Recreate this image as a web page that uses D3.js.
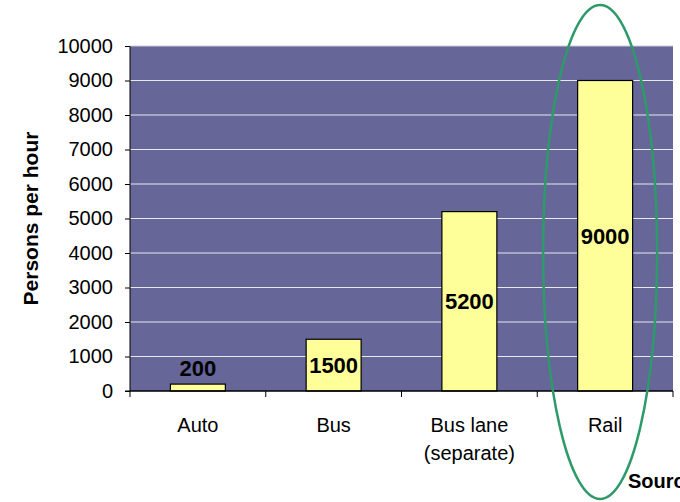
<!DOCTYPE html>
<html>
<head>
<meta charset="utf-8">
<script src="https://cdn.jsdelivr.net/npm/d3@7"></script>
<style>
  body { margin: 0; background: #fff; }
  text { font-family: Arial, "Liberation Sans", sans-serif; }
</style>
</head>
<body>
<svg id="chart"></svg>
<script>
const categories = [["Auto"], ["Bus"], ["Bus lane", "(separate)"], ["Rail"]];
const values = [200, 1500, 5200, 9000];
const yTicks = [0, 1000, 2000, 3000, 4000, 5000, 6000, 7000, 8000, 9000, 10000];

const W = 680, H = 502;
const margin = {top: 46, right: 7, bottom: 111, left: 130};
const width = W - margin.left - margin.right,
    height = H - margin.top - margin.bottom;

const svg = d3.select("#chart").attr("width", W).attr("height", H);
const g = svg.append("g").attr("transform", "translate(" + margin.left + "," + margin.top + ")");

const x = d3.scaleBand().domain(d3.range(categories.length)).range([0, width]).paddingInner(0.595).paddingOuter(0.2975);
const xb = d3.scaleBand().domain(d3.range(categories.length)).range([0, width]);
const y = d3.scaleLinear().domain([0, 10000]).range([height, 0]);

// plot area
g.append("rect").attr("width", width).attr("height", height).attr("fill", "#666699");

// gridlines
g.selectAll(".grid").data(yTicks.filter(d => d > 0)).join("line")
    .attr("x1", 0).attr("x2", width)
    .attr("y1", d => y(d)).attr("y2", d => y(d))
    .attr("stroke", d => d === 10000 ? "#c8c8d8" : "#e8e8f0").attr("stroke-width", 1);

// bars
g.selectAll(".bar").data(values).join("rect")
    .attr("x", (d, i) => x(i)).attr("width", x.bandwidth())
    .attr("y", d => y(d)).attr("height", d => height - y(d))
    .attr("fill", "#ffff99").attr("stroke", "#000").attr("stroke-width", 1.2);

// value labels
g.selectAll(".val").data(values).join("text")
    .attr("x", (d, i) => x(i) + x.bandwidth() / 2)
    .attr("y", d => (height - y(d)) < 30 ? y(d) - 8 : (y(d) + height) / 2 + 8)
    .attr("text-anchor", "middle").attr("font-size", 22).attr("font-weight", "bold")
    .text(d => d);

// y axis
const yAxis = g.append("g").call(d3.axisLeft(y).tickValues(yTicks).tickSize(5).tickPadding(12).tickFormat(d3.format("d")));
yAxis.select(".domain").attr("d", "M-5,0.5H0V" + height + "H-5").attr("stroke", "#000");
yAxis.selectAll("text").attr("font-size", 20).attr("fill", "#000").style("font-family", "Arial, 'Liberation Sans', sans-serif");
yAxis.selectAll("line").attr("stroke", "#000");

// x axis
g.append("line").attr("x1", 0).attr("x2", width).attr("y1", height).attr("y2", height).attr("stroke", "#000").attr("stroke-width", 1.5);
g.selectAll(".xtick").data(d3.range(categories.length + 1)).join("line")
    .attr("x1", i => i * xb.step()).attr("x2", i => i * xb.step())
    .attr("y1", height).attr("y2", height + 6).attr("stroke", "#000");

g.selectAll(".xlab").data(categories).join("text")
    .attr("text-anchor", "middle").attr("font-size", 20)
    .attr("transform", (d, i) => "translate(" + (xb(i) + xb.bandwidth() / 2) + "," + (height + 41) + ")")
    .selectAll("tspan").data(d => d).join("tspan")
    .attr("x", 0).attr("dy", (d, i) => i === 0 ? 0 : 28).text(d => d);

// y title
svg.append("text")
    .attr("transform", "translate(38," + (margin.top + height / 2) + ") rotate(-90)")
    .attr("text-anchor", "middle").attr("font-size", 21).attr("font-weight", "bold")
    .text("Persons per hour");

// highlight ellipse around rail
svg.append("ellipse")
    .attr("cx", margin.left + xb(3) + xb.bandwidth() / 2 - 5).attr("cy", 252)
    .attr("rx", 57).attr("ry", 247)
    .attr("fill", "none").attr("stroke", "#2e9a6a").attr("stroke-width", 2.5);

svg.append("text").attr("x", 628).attr("y", 488)
    .attr("font-size", 20).attr("font-weight", "bold").text("Source:");
</script>
</body>
</html>
